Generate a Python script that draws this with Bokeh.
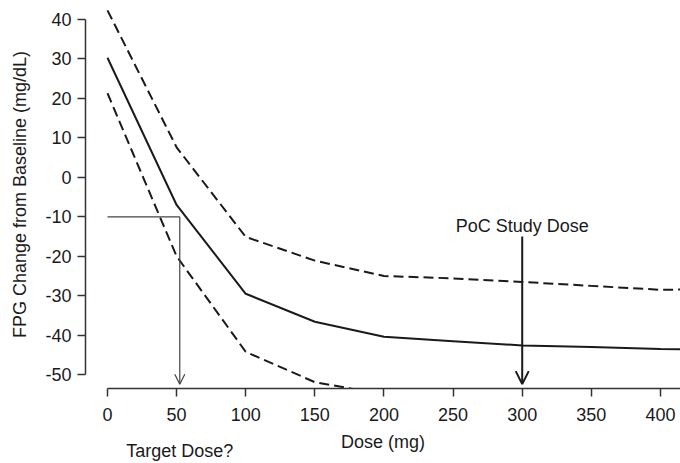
from bokeh.plotting import figure
from bokeh.models import Range1d, Arrow, OpenHead, Label, LinearAxis, FixedTicker
from bokeh.embed import file_html
from bokeh.resources import INLINE

# Model-predicted FPG change (mg/dL) vs dose, with its confidence band
doses = [0, 50, 100, 150, 200, 250, 300, 350, 400, 450]
median = [30.3, -7.0, -29.5, -36.6, -40.4, -41.5, -42.6, -43.0, -43.5, -43.6]
upper = [42.3, 7.6, -15.1, -21.1, -25.0, -25.6, -26.5, -27.5, -28.5, -28.3]
lower_doses = [0, 50, 100, 150, 200]
lower = [21.3, -20.0, -44.2, -51.9, -55.0]

x_ticks = [0, 50, 100, 150, 200, 250, 300, 350, 400]
y_ticks = [-50, -40, -30, -20, -10, 0, 10, 20, 30, 40]

target_effect = -10
target_dose = 52.3
poc_dose = 300
poc_arrow_top = -15
arrow_end = -52.4

FONT = "Liberation Sans"
INK = "#1a1a1a"
SIZE = "18px"

p = figure(width=680, height=463, output_backend="svg", toolbar_location=None,
           x_range=Range1d(-15.9, 414.5), y_range=Range1d(-53.5, 44.8),
           min_border_left=85, min_border_right=0, min_border_top=0,
           min_border_bottom=70)
p.outline_line_color = None
p.xgrid.grid_line_color = None
p.ygrid.grid_line_color = None
p.background_fill_color = "white"
p.border_fill_color = "white"

for ax in (p.xaxis[0], p.yaxis[0]):
    ax.axis_line_color = "#333333"
    ax.axis_line_width = 1.5
    ax.major_tick_line_color = "#333333"
    ax.major_tick_line_width = 1.5
    ax.major_tick_in = 0
    ax.major_tick_out = 8
    ax.minor_tick_line_color = None
    ax.major_label_text_font = FONT
    ax.major_label_text_font_size = SIZE
    ax.major_label_text_color = INK
    ax.axis_label_text_font = FONT
    ax.axis_label_text_font_size = SIZE
    ax.axis_label_text_font_style = "normal"
    ax.axis_label_text_color = INK

p.xaxis.ticker = x_ticks
p.yaxis.ticker = y_ticks
# plain hyphen-minus on the negative tick labels
p.yaxis.major_label_overrides = {v: str(v) for v in y_ticks}
p.xaxis.bounds = (0, 414.5)
p.yaxis.bounds = (-50, 40)
p.xaxis.major_label_standoff = 11
p.yaxis.major_label_standoff = 6
p.xaxis.axis_label = "Dose (mg)"
p.yaxis.axis_label = "FPG Change from Baseline (mg/dL)"
p.xaxis.axis_label_standoff = 8
p.yaxis.axis_label_standoff = 12

# caption under the target-dose arrow, carried by a bare second axis
target_axis = LinearAxis(ticker=FixedTicker(ticks=[target_dose]),
                         major_label_overrides={target_dose: "Target Dose?"},
                         axis_line_color=None, major_tick_line_color=None,
                         minor_tick_line_color=None, major_tick_in=0, major_tick_out=0,
                         major_label_standoff=-14,
                         major_label_text_font=FONT, major_label_text_font_size=SIZE,
                         major_label_text_color=INK)
p.add_layout(target_axis, "below")

# prediction and confidence limits
p.line(doses, median, line_color=INK, line_width=2)
p.line(doses, upper, line_color=INK, line_width=2, line_dash="10 5")
p.line(lower_doses, lower, line_color=INK, line_width=2, line_dash="10 5")

# target effect -> target dose
p.line([0, target_dose], [target_effect, target_effect], line_color="#444444", line_width=1.2)
p.add_layout(Arrow(end=OpenHead(size=10, line_color="#444444", line_width=1.2),
                   x_start=target_dose, y_start=target_effect,
                   x_end=target_dose, y_end=arrow_end,
                   line_color="#444444", line_width=1.2))

# proof-of-concept study dose
p.add_layout(Arrow(end=OpenHead(size=13, line_color=INK, line_width=2),
                   x_start=poc_dose, y_start=poc_arrow_top,
                   x_end=poc_dose, y_end=arrow_end,
                   line_color=INK, line_width=2))
p.add_layout(Label(x=poc_dose, y=-12.3, text="PoC Study Dose", text_align="center",
                   text_baseline="alphabetic", text_font=FONT,
                   text_font_size=SIZE, text_color=INK))

open("out.html", "w").write(file_html(p, INLINE))
